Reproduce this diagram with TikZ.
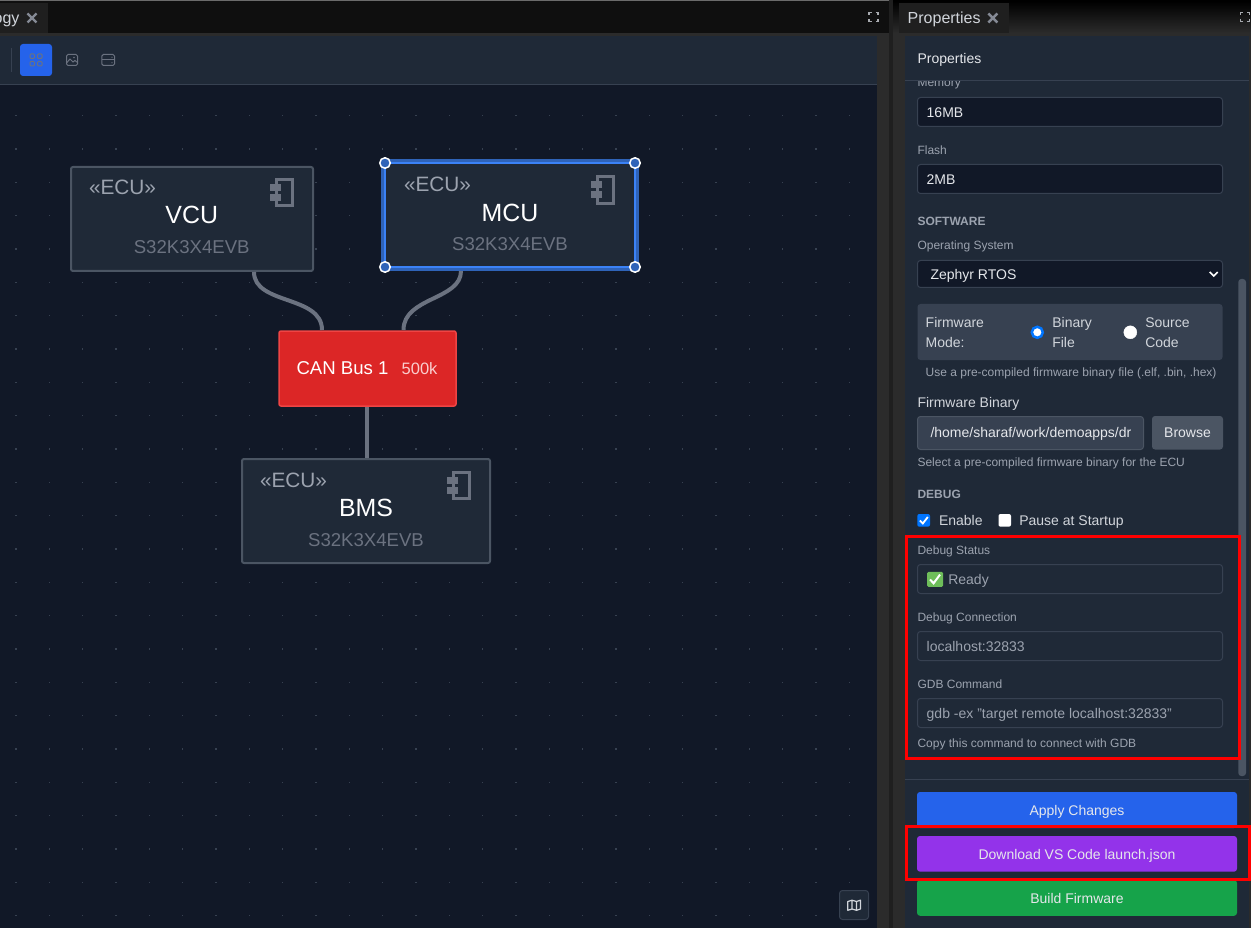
\documentclass[tikz,border=0pt]{standalone}
\usepackage{fontspec}
\setmainfont{Liberation Sans}
\usetikzlibrary{calc}
\definecolor{panel}{HTML}{1F2937}
\definecolor{canvas}{HTML}{111827}
\definecolor{edgeg}{HTML}{374151}
\definecolor{gfive}{HTML}{4B5563}
\definecolor{gsix}{HTML}{6B7280}
\definecolor{gfour}{HTML}{9CA3AF}
\definecolor{gthree}{HTML}{D1D5DB}
\definecolor{gtwo}{HTML}{E5E7EB}
\definecolor{strip}{HTML}{2B2B2B}
\definecolor{halo}{HTML}{2F63B8}
\definecolor{bright}{HTML}{3B82F6}
\definecolor{hired}{HTML}{FF0000}
\definecolor{ublue}{HTML}{2563EB}
\definecolor{upurple}{HTML}{9333EA}
\definecolor{ugreen}{HTML}{16A34A}
\definecolor{formblue}{HTML}{0075FF}
\definecolor{canred}{HTML}{DC2626}
\definecolor{canedge}{HTML}{EF4444}
\definecolor{canrate}{HTML}{FACDCD}
\definecolor{emojigreen}{HTML}{6EBE5A}
\newcommand{\compicon}[2]{%
  \begin{scope}[shift={(#1,#2)}]
    \draw[gsix,line width=3pt] (5.9,1.5) rectangle (22.5,27.8);
    \fill[gsix] (-0.3,6) rectangle (10.4,13);
    \fill[gsix] (-0.3,16) rectangle (10.4,23);
  \end{scope}}
\newcommand{\expandicon}[2]{%
  \begin{scope}[shift={(#1,#2)}]
    \draw[gthree!80!black,line width=1.8pt] (-4.5,-2) -- (-4.5,-4.5) -- (-2,-4.5)
      (2,-4.5) -- (4.5,-4.5) -- (4.5,-2) (4.5,2) -- (4.5,4.5) -- (2,4.5)
      (-2,4.5) -- (-4.5,4.5) -- (-4.5,2);
  \end{scope}}
\newcommand{\closeicon}[2]{%
  \draw[gfour!85!black,line width=2.4pt] (#1-4.5,#2-4.5) -- (#1+4.5,#2+4.5) (#1-4.5,#2+4.5) -- (#1+4.5,#2-4.5);}
\tikzset{
  x=1pt,y=-1pt,
  t/.style={inner sep=0pt,outer sep=0pt,anchor=base west},
  tc/.style={inner sep=0pt,outer sep=0pt,anchor=base},
  s12/.style={font=\fontsize{12}{14}\selectfont,text=gfour},
  s14/.style={font=\fontsize{14}{16}\selectfont,text=gthree},
  s12b/.style={font=\fontsize{12}{14}\selectfont\bfseries,text=gfour},
  stereo/.style={t,font=\fontsize{20.8}{22}\selectfont,text=gfour},
  ecuname/.style={tc,font=\fontsize{24.9}{26}\selectfont,text=white},
  board/.style={tc,font=\fontsize{18.6}{22}\selectfont,text=gsix},
  ecubox/.style={draw=gfive,fill=panel,line width=2pt,rounded corners=2pt,inner sep=0pt,outer sep=0pt},
  wire/.style={draw=gsix,line width=4pt},
  field/.style={draw=edgeg,line width=1pt,rounded corners=3pt},
  inputbox/.style={field,fill=canvas},
  btn/.style={rounded corners=3pt},
  redframe/.style={draw=hired,line width=3pt},
  btntext/.style={tc,font=\fontsize{14}{16}\selectfont,text=gtwo},
  handle/.style={circle,draw=white,fill=halo,line width=1.5pt,minimum size=10.5pt,inner sep=0pt},
  radio/.style={circle,draw=white,fill=white,minimum size=13pt,inner sep=0pt},
  glyph/.style={draw=gsix,line width=1pt},
}
\begin{document}
\begin{tikzpicture}
\useasboundingbox (0,0) rectangle (1251,928);
% base
\fill[strip] (0,0) rectangle (1251,928);
% left tab bar
\fill[black!94] (0,1) rectangle (889,33);
\fill[strip!70] (0,0) rectangle (889,1);
\fill[black!88] (0,3) rectangle (48,33);
\node[t,font=\fontsize{16}{18}\selectfont,text=gthree,anchor=base east] (lefttab) at (19.5,23.3) {ogy};
\closeicon{32}{18}
\expandicon{873.7}{17}
% right tab bar
\shade[top color=black,bottom color=strip] (893,1) rectangle (1251,33);
\fill[black!88] (899,3) rectangle (1009,33);
\node[t,font=\fontsize{16}{18}\selectfont,text=gthree] (righttab) at (907.7,23.3) {Properties};
\closeicon{992.8}{18}
\expandicon{1245}{17}
% splitter
\fill[black!88] (889,0) rectangle (893,928);
% toolbar and canvas
\fill[panel] (0,36) rectangle (877,84);
\draw[edgeg,line width=1pt] (0,84.5) -- (877,84.5);
\fill[canvas] (0,85) rectangle (877,928);
\foreach \i in {0,...,25}{\foreach \j in {0,...,24}{
  \fill[edgeg] ({16+\i*33.33-.6},{115.7+\j*33.33-.6}) rectangle ++(1.2,1.2);
}}
\draw[edgeg,line width=1pt] (11.5,48) -- (11.5,72);
\fill[btn,fill=ublue] (20,44) rectangle (52,76);
\foreach \a/\b in {30/54,37.5/54,30/61.5,37.5/61.5}{\draw[glyph,rounded corners=1pt] (\a,\b) rectangle ++(4.5,4.5);}
\draw[glyph,rounded corners=1.5pt] (66.5,54.5) rectangle (77.5,65.5);
\draw[glyph] (66.5,63) -- (70,59) -- (73,62) -- (75,60.5) -- (77.5,62.5);
\fill[gsix] (74,57.5) circle (.8);
\draw[glyph,rounded corners=1.5pt] (101.8,54.5) rectangle (114.5,65.5);
\draw[glyph] (101.8,60) -- (114.5,60);
\fill[gsix] (112,57.3) circle (.6) (112,62.8) circle (.6);
% ECU nodes
\node[ecubox,minimum width=242pt,minimum height=104pt] (vcu) at (192,219) {};
\node[ecubox,minimum width=248pt,minimum height=104pt] (bms) at (366,511) {};
\node[draw=bright,fill=panel,line width=2.2pt,inner sep=0pt,outer sep=0pt,minimum width=250pt,minimum height=104pt,
      preaction={draw=halo,line width=7.5pt}] (mcu) at (510,215) {};
\node[draw=canedge,fill=canred,line width=1.5pt,rounded corners=2pt,inner sep=0pt,outer sep=0pt,
      minimum width=177pt,minimum height=75pt] (can) at (367.5,368.5) {};
% connectors
\draw[wire] ($(vcu.south west)+(183,1)$) .. controls ($(vcu.south west)+(183,34)$) and ($(can.north west)+(43,-36)$) .. ($(can.north west)+(43,-1)$);
\draw[wire] ($(mcu.south west)+(76,4)$) .. controls ($(mcu.south west)+(76,33)$) and ($(can.north west)+(124.5,-34)$) .. ($(can.north west)+(124.5,-1)$);
\draw[wire] ($(can.south west)+(87.7,1)$) -- ($(bms.north west)+(124.7,-1)$);
\foreach \n/\p in {h1/mcu.north west,h2/mcu.north east,h3/mcu.south west,h4/mcu.south east}{\node[handle] (\n) at (\p) {};}
% ECU labels
\compicon{270.3}{178}
\compicon{591.3}{175.3}
\compicon{447.3}{470.7}
\node[stereo] (vs) at (89,195) {«ECU»};
\node[ecuname] (vn) at (191.7,224) {VCU};
\node[board] (vb) at (191.7,253.3) {S32K3X4EVB};
\node[stereo] (ms) at (404,192) {«ECU»};
\node[ecuname] (mn) at (510,221.3) {MCU};
\node[board] (mb) at (510,250.3) {S32K3X4EVB};
\node[stereo] (bs) at (260,487) {«ECU»};
\node[ecuname] (bn) at (366,516) {BMS};
\node[board] (bb) at (366,546.3) {S32K3X4EVB};
\node[t,font=\fontsize{18.6}{20}\selectfont,text=white] (canname) at (296.5,374) {CAN Bus 1};
\node[t,font=\fontsize{16.5}{18}\selectfont,text=canrate] (canratev) at (401.7,374) {500k};
% map button
\draw[fill=panel,draw=edgeg,line width=1pt,rounded corners=3pt] (839.5,890.5) rectangle (868.5,919.5);
\draw[gthree,line width=1.2pt,line join=round] (847.8,901.5) -- (852,900.2) -- (856.5,901.5) -- (860.5,900.2) -- (860.5,909) -- (856.5,910.3) -- (852,909) -- (847.8,910.3) -- cycle (852,900.2) -- (852,909) (856.5,901.5) -- (856.5,910.3);
% right panel
\fill[panel] (905,36) rectangle (1249,928);
\fill[gfive,rounded corners=3pt] (1238.3,279) rectangle (1246,776);
\begin{scope}
  \clip (905,81) rectangle (1249,100);
  \node[t,s12] (memory) at (917.5,87) {Memory};
\end{scope}
\draw[edgeg,line width=1pt] (905,80.5) -- (1249,80.5);
\node[t,s14,text=gtwo] (ptitle) at (917.5,63.3) {Properties};
\draw[inputbox] (917.5,97.5) rectangle (1222.5,126.5);
\node[t,s14,text=gtwo] (mem) at (926.7,117.5) {16MB};
\node[t,s12] (flash) at (917.5,154.3) {Flash};
\draw[inputbox] (917.5,164.5) rectangle (1222.5,193.5);
\node[t,s14,text=gtwo] (flv) at (926.7,184.7) {2MB};
\node[t,s12b] (soft) at (917.5,225.3) {SOFTWARE};
\node[t,s12] (os) at (917.5,249.7) {Operating System};
\draw[inputbox] (917.5,260.5) rectangle (1222.5,287.5);
\node[t,s14,text=gtwo] (osv) at (930.5,279.3) {Zephyr RTOS};
\draw[white,line width=1.6pt] (1209.7,272) -- (1213.7,276) -- (1217.7,272);
% firmware mode
\fill[edgeg,rounded corners=3pt] (917.5,304) rectangle (1222.5,360);
\node[t,s14] (fm1) at (925.7,327.3) {Firmware};
\node[t,s14] (fm2) at (925.7,347.3) {Mode:};
\node[radio,draw=formblue,line width=2.5pt,minimum size=11pt] (r1) at (1037.3,332.3) {};
\node[radio] (r2) at (1130.3,332.3) {};
\node[t,s14] (b1) at (1052.3,327.3) {Binary};
\node[t,s14] (b2) at (1052.3,347.3) {File};
\node[t,s14] (c1) at (1145.3,327.3) {Source};
\node[t,s14] (c2) at (1145.3,347.3) {Code};
\node[t,s12] (hint) at (925.7,376) {Use a pre-compiled firmware binary file (.elf, .bin, .hex)};
\node[t,s14] (fb) at (917.5,407.4) {Firmware Binary};
\draw[field,fill=edgeg,draw=gfive] (917.5,416.5) rectangle (1143.5,449.5);
\node[t,s14,text=gtwo] (path) at (930.5,437.7) {/home/sharaf/work/demoapps/dr};
\fill[gfive,rounded corners=3pt] (1152,416) rectangle (1223,449.5);
\node[btntext] (browse) at (1187.5,437.7) {Browse};
\node[t,s12] (sel) at (917.5,466.4) {Select a pre-compiled firmware binary for the ECU};
\node[t,s12b] (debug) at (917.5,498.4) {DEBUG};
\fill[formblue,rounded corners=2pt] (917.3,514) rectangle (930,526.7);
\draw[white,line width=1.8pt] (919.8,520.5) -- (922.8,523.5) -- (927.8,517);
\node[t,s14] (en) at (939,525) {Enable};
\fill[white,rounded corners=2pt] (998.5,514) rectangle (1011,526.7);
\node[t,s14] (pause) at (1019.3,525) {Pause at Startup};
% debug fields
\node[t,s12] (ds) at (917.5,554) {Debug Status};
\draw[field] (917.5,564.5) rectangle (1222.5,593.5);
\fill[emojigreen,rounded corners=1.5pt] (927,571.8) rectangle (943.2,586.8);
\draw[white,line width=2pt] (930,579.5) -- (933.6,583.3) -- (940,574.6);
\node[t,s14,text=gfour] (dsv) at (948.3,584) {Ready};
\node[t,s12] (dc) at (917.5,621) {Debug Connection};
\draw[field] (917.5,631.5) rectangle (1222.5,660.5);
\node[t,s14,text=gfour] (dcv) at (926.7,651.4) {localhost:32833};
\node[t,s12] (gc) at (917.5,688) {GDB Command};
\draw[field] (917.5,698.5) rectangle (1222.5,727.5);
\node[t,s14,text=gfour] (gcv) at (926.7,718.4) {gdb -ex "target remote localhost:32833"};
\node[t,s12] (copy) at (917.5,747.4) {Copy this command to connect with GDB};
\draw[redframe] (906.5,536.5) rectangle (1239.5,758.5);
% footer
\draw[edgeg,line width=1pt] (905,779.5) -- (1249,779.5);
\fill[btn,fill=ublue] (917,792) rectangle (1237,828);
\node[btntext] (apply) at (1077,815) {Apply Changes};
\fill[btn,fill=upurple] (917,836) rectangle (1237,871.7);
\node[btntext] (dl) at (1077,859) {Download VS Code launch.json};
\fill[btn,fill=ugreen] (917,880) rectangle (1237,915.8);
\node[btntext] (build) at (1077,903.4) {Build Firmware};
\draw[redframe] (906.5,826.5) rectangle (1249.5,879.5);
\end{tikzpicture}
\end{document}
